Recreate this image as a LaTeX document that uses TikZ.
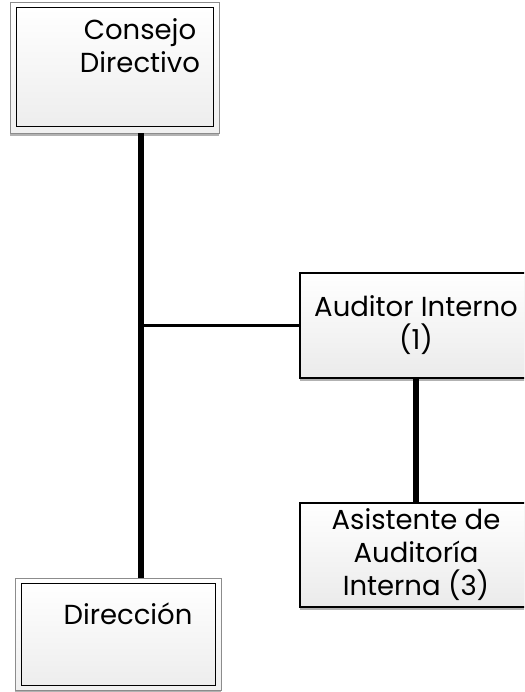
\documentclass[tikz,border=0pt]{standalone}
\usepackage{fontspec}
\setmainfont{Poppins}
\usetikzlibrary{shadows}

\tikzset{
    outerbox/.style={draw=black!45, line width=0.8pt, top color=white, bottom color=black!6,
        drop shadow={shadow xshift=0pt, shadow yshift=-3pt, fill=black!30, opacity=1},
        inner sep=0pt},
    innerbox/.style={draw=black, line width=1pt, top color=white, bottom color=black!7, inner sep=0pt},
    unitbox/.style={draw=black, line width=2.5pt, top color=white, bottom color=black!8,
        drop shadow={shadow xshift=0pt, shadow yshift=-3pt, fill=black!30, opacity=1},
        minimum width=232pt, minimum height=105pt, inner sep=0pt},
    boxtext/.style={align=center, inner sep=0pt, font=\fontsize{27.5}{33}\selectfont},
    trunk/.style={line width=6pt},
    branch/.style={line width=2.5pt}
}

\begin{document}
\begin{tikzpicture}[x=1pt, y=-1pt]
    \useasboundingbox (0,0) rectangle (524,692);
    \clip (0,0) rectangle (524,692);
    %consejo
    \node [outerbox, minimum width=209pt, minimum height=131pt] (consejo) at (114.5,67.5) {};
    \node [innerbox, minimum width=197pt, minimum height=119pt] (consejo in) at (consejo.center) {};
    \node [boxtext, anchor=north] (consejo text) at (140,18) {Consejo\\Directivo};
    %direccion
    \node [outerbox, minimum width=206pt, minimum height=112pt] (direccion) at (118,634) {};
    \node [innerbox, minimum width=194pt, minimum height=102pt] (direccion in) at (direccion.center) {};
    \node [boxtext, anchor=north] (direccion text) at (128,603) {Dirección};
    %auditoria
    \node [unitbox] (auditor) at (416,325.5) {};
    \node [boxtext] (auditor text) at (auditor.center) {Auditor Interno\\(1)};
    \node [unitbox, minimum height=104pt] (asistente) at (416,555) {};
    \node [boxtext] (asistente text) at (asistente.center) {Asistente de\\Auditoría\\Interna (3)};
    %lineas
    \coordinate (eje) at (141,0);
    \draw [trunk] (consejo.south -| eje) -- (direccion.north -| eje);
    \draw [branch] (auditor.west -| eje) -- (auditor.west);
    \draw [trunk] (auditor.south) -- (asistente.north);
\end{tikzpicture}
\end{document}
